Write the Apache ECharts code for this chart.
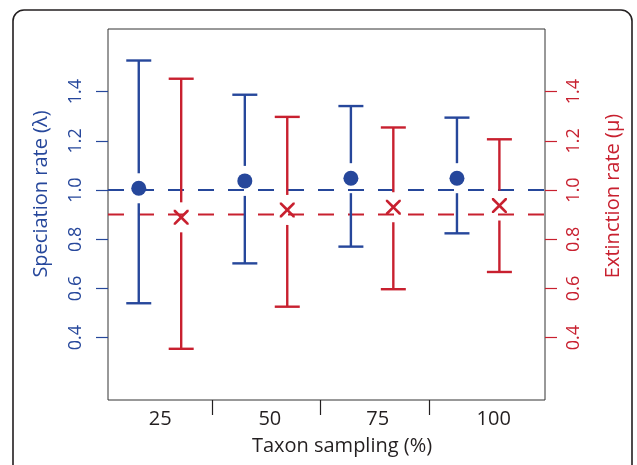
<!DOCTYPE html>
<html>
<head>
<meta charset="utf-8">
<script src="https://cdn.jsdelivr.net/npm/echarts@6/dist/echarts.min.js"></script>
<style>
  html, body { margin: 0; padding: 0; background: #fff; }
  #chart { width: 637px; height: 465px; }
</style>
</head>
<body>
<div id="chart"></div>
<script>
// taxon sampling levels
const categories = ['25', '50', '75', '100'];
// speciation rate (lambda)
const lambdaMean = [1.007, 1.037, 1.048, 1.048];
const lambdaLow = [0.540, 0.702, 0.770, 0.824];
const lambdaHigh = [1.526, 1.387, 1.341, 1.294];
// extinction rate (mu)
const muMean = [0.889, 0.919, 0.930, 0.937];
const muLow = [0.355, 0.526, 0.597, 0.667];
const muHigh = [1.452, 1.297, 1.254, 1.206];
// reference values
const lambdaRef = 1.0;
const muRef = 0.9;
const yTicks = [0.4, 0.6, 0.8, 1.0, 1.2, 1.4];

const BLUE = '#26479b';
const RED = '#c8202f';
const FONT = 'Open Sans';

// layout along x (group i sits at i + 1, red shifted right)
const redShift = 0.4;
const xTickPos = [1.69, 2.71, 3.74];
const xLabelPos = [1.203, 2.236, 3.253, 4.347];

const chart = echarts.init(document.getElementById('chart'));

function rows(mean, low, high, shift) {
  return mean.map((m, i) => [i + 1 + shift, low[i], high[i], m]);
}

// error bar with a gap around the point, and caps
function errBar(color) {
  return function (params, api) {
    const x = api.value(0);
    const lo = api.coord([x, api.value(1)]);
    const hi = api.coord([x, api.value(2)]);
    const mid = api.coord([x, api.value(3)]);
    const gap = 15, cap = 12.5;
    const st = { stroke: color, lineWidth: 2.4 };
    return {
      type: 'group',
      children: [
        { type: 'line', shape: { x1: hi[0], y1: hi[1], x2: hi[0], y2: mid[1] - gap }, style: st },
        { type: 'line', shape: { x1: lo[0], y1: mid[1] + gap, x2: lo[0], y2: lo[1] }, style: st },
        { type: 'line', shape: { x1: hi[0] - cap, y1: hi[1], x2: hi[0] + cap, y2: hi[1] }, style: st },
        { type: 'line', shape: { x1: lo[0] - cap, y1: lo[1], x2: lo[0] + cap, y2: lo[1] }, style: st }
      ]
    };
  };
}

function refLine(color) {
  return function (params, api) {
    const cs = params.coordSys;
    const y = api.coord([0, api.value(0)])[1];
    return {
      type: 'line',
      shape: { x1: cs.x, y1: y, x2: cs.x + cs.width, y2: y },
      style: { stroke: color, lineWidth: 2, lineDash: [16, 14] }
    };
  };
}

function yAxis(color, pos, margin) {
  return {
    type: 'value',
    position: pos,
    min: 0.147,
    max: 1.654,
    axisLine: { show: false },
    splitLine: { show: false },
    axisTick: { show: true, customValues: yTicks, length: 12, lineStyle: { color: color, width: 1.2 } },
    axisLabel: {
      customValues: yTicks,
      rotate: 90,
      margin: margin,
      color: color,
      fontFamily: FONT,
      fontSize: 18,
      formatter: v => v.toFixed(1)
    }
  };
}

const option = {
  animation: false,
  grid: { left: 108, right: 92, top: 29, bottom: 65, show: true, borderColor: '#333', borderWidth: 1 },
  xAxis: {
    type: 'value',
    min: 0.71,
    max: 4.83,
    axisLine: { show: false },
    splitLine: { show: false },
    axisTick: { show: true, customValues: xTickPos, length: 15, lineStyle: { color: '#231f20', width: 1.2 } },
    axisLabel: {
      customValues: xLabelPos,
      margin: 9,
      color: '#231f20',
      fontFamily: FONT,
      fontSize: 20,
      formatter: v => categories[xLabelPos.indexOf(v)]
    }
  },
  yAxis: [yAxis(BLUE, 'left', 23), yAxis(RED, 'right', 20)],
  graphic: [
    { type: 'rect', shape: { x: 13, y: 10, width: 619, height: 490, r: 11 }, style: { fill: 'none', stroke: '#231f20', lineWidth: 1.6 } },
    { type: 'text', x: 41, y: 194, rotation: Math.PI / 2, style: { text: 'Speciation rate (λ)', fill: BLUE, font: '20px "Open Sans"', align: 'center', verticalAlign: 'middle' } },
    { type: 'text', x: 613, y: 196, rotation: Math.PI / 2, style: { text: 'Extinction rate (μ)', fill: RED, font: '20px "Open Sans"', align: 'center', verticalAlign: 'middle' } },
    { type: 'text', x: 342, y: 446, style: { text: 'Taxon sampling (%)', fill: '#231f20', font: '20px "Open Sans"', align: 'center', verticalAlign: 'middle' } }
  ],
  series: [
    { type: 'custom', yAxisIndex: 0, renderItem: refLine(BLUE), data: [[lambdaRef]], silent: true },
    { type: 'custom', yAxisIndex: 1, renderItem: refLine(RED), data: [[muRef]], silent: true },
    { type: 'custom', yAxisIndex: 0, renderItem: errBar(BLUE), data: rows(lambdaMean, lambdaLow, lambdaHigh, 0) },
    { type: 'custom', yAxisIndex: 1, renderItem: errBar(RED), data: rows(muMean, muLow, muHigh, redShift) },
    {
      type: 'scatter', yAxisIndex: 0, symbol: 'circle', symbolSize: 15,
      itemStyle: { color: BLUE, opacity: 1 },
      data: lambdaMean.map((m, i) => [i + 1, m])
    },
    {
      type: 'scatter', yAxisIndex: 1, symbolSize: 15,
      symbol: 'path://M0,0 L2.5,0 L10,7.5 L17.5,0 L20,0 L20,2.5 L12.5,10 L20,17.5 L20,20 L17.5,20 L10,12.5 L2.5,20 L0,20 L0,17.5 L7.5,10 L0,2.5 Z',
      itemStyle: { color: RED, opacity: 1 },
      data: muMean.map((m, i) => [i + 1 + redShift, m])
    }
  ]
};

chart.setOption(option);
</script>
</body>
</html>
